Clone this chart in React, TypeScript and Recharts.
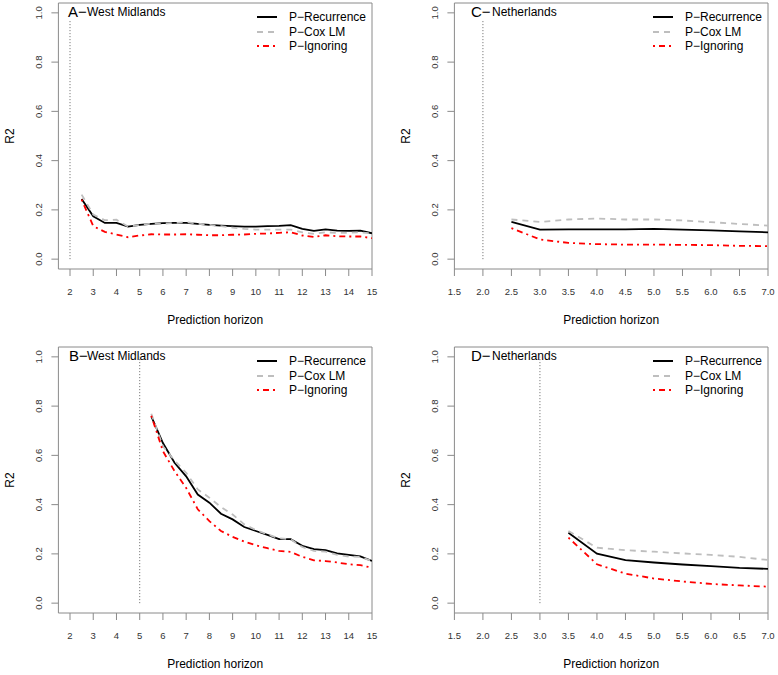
import React from 'react';
import {
  LineChart,
  Line,
  XAxis,
  YAxis,
  ReferenceLine,
  ReferenceArea,
  Legend,
} from 'recharts';

// West Midlands horizons / R2
const hA = [2.5, 3, 3.5, 4, 4.5, 5, 5.5, 6, 6.5, 7, 7.5, 8, 8.5, 9, 9.5, 10, 10.5, 11, 11.5, 12, 12.5, 13, 13.5, 14, 14.5, 15];
const recA = [0.244, 0.174, 0.147, 0.147, 0.132, 0.139, 0.143, 0.146, 0.147, 0.147, 0.143, 0.139, 0.136, 0.134, 0.132, 0.132, 0.134, 0.135, 0.138, 0.123, 0.115, 0.121, 0.116, 0.115, 0.116, 0.105];
const coxA = [0.262, 0.181, 0.158, 0.16, 0.132, 0.139, 0.144, 0.144, 0.147, 0.15, 0.144, 0.139, 0.134, 0.128, 0.123, 0.12, 0.12, 0.12, 0.12, 0.109, 0.103, 0.109, 0.107, 0.107, 0.109, 0.104];
const ignA = [0.242, 0.134, 0.111, 0.1, 0.089, 0.096, 0.101, 0.1, 0.1, 0.101, 0.099, 0.097, 0.097, 0.099, 0.1, 0.103, 0.104, 0.107, 0.109, 0.096, 0.09, 0.097, 0.093, 0.092, 0.092, 0.085];

const hB = [5.5, 6, 6.5, 7, 7.5, 8, 8.5, 9, 9.5, 10, 10.5, 11, 11.5, 12, 12.5, 13, 13.5, 14, 14.5, 15];
const recB = [0.758, 0.65, 0.57, 0.515, 0.441, 0.408, 0.363, 0.34, 0.309, 0.293, 0.277, 0.26, 0.26, 0.233, 0.219, 0.215, 0.202, 0.196, 0.19, 0.171];
const coxB = [0.769, 0.637, 0.579, 0.529, 0.462, 0.428, 0.39, 0.36, 0.32, 0.297, 0.279, 0.263, 0.259, 0.228, 0.212, 0.209, 0.196, 0.189, 0.188, 0.171];
const ignB = [0.761, 0.617, 0.536, 0.468, 0.381, 0.333, 0.293, 0.269, 0.25, 0.235, 0.223, 0.212, 0.208, 0.188, 0.174, 0.171, 0.165, 0.158, 0.154, 0.144];

// Netherlands
const hC = [2.5, 3, 3.5, 4, 4.5, 5, 5.5, 6, 6.5, 7];
const recC = [0.151, 0.12, 0.121, 0.121, 0.121, 0.123, 0.12, 0.117, 0.113, 0.109];
const coxC = [0.161, 0.151, 0.161, 0.165, 0.161, 0.161, 0.157, 0.15, 0.143, 0.136];
const ignC = [0.126, 0.08, 0.066, 0.061, 0.059, 0.059, 0.058, 0.057, 0.054, 0.053];

const hD = [3.5, 4, 4.5, 5, 5.5, 6, 6.5, 7];
const recD = [0.286, 0.201, 0.175, 0.165, 0.157, 0.15, 0.143, 0.139];
const coxD = [0.293, 0.225, 0.215, 0.209, 0.202, 0.196, 0.188, 0.175];
const ignD = [0.266, 0.158, 0.12, 0.1, 0.088, 0.078, 0.072, 0.067];

const wmTicks = [2, 3, 4, 5, 6, 7, 8, 9, 10, 11, 12, 13, 14, 15];
const nlTicks = [1.5, 2, 2.5, 3, 3.5, 4, 4.5, 5, 5.5, 6, 6.5, 7];
const yTicks = [0, 0.2, 0.4, 0.6, 0.8, 1.0];

const seriesNames = ['P\u2212Recurrence', 'P\u2212Cox LM', 'P\u2212Ignoring'];

const FONT = '"Liberation Sans", Arial, Helvetica, sans-serif';
const FRAME = '#8a8a8a';

const rows = (h: number[], rec: number[], cox: number[], ign: number[]) =>
  h.map((x, i) => ({ h: x, rec: rec[i], cox: cox[i], ign: ign[i] }));

const XTick = ({ x, y, payload, fmt }: any) => (
  <text x={x} y={y + 17} textAnchor="middle" fontSize={9.5} fill="#333" fontFamily={FONT}>
    {fmt(payload.value)}
  </text>
);

const YTick = ({ x, y, payload }: any) => (
  <text
    x={x - 7}
    y={y}
    textAnchor="middle"
    fontSize={9.5}
    fill="#333"
    fontFamily={FONT}
    transform={`rotate(-90, ${x - 7}, ${y})`}
  >
    {payload.value.toFixed(1)}
  </text>
);

const LegendBox = () => {
  const styles = [
    { stroke: '#000', dash: undefined },
    { stroke: '#bebebe', dash: '6 5' },
    { stroke: '#ff0000', dash: '2 4 6 4' },
  ];
  return (
    <div style={{ fontFamily: FONT, fontSize: 12, color: '#000' }}>
      {seriesNames.map((n, i) => (
        <div key={n} style={{ display: 'flex', alignItems: 'center', height: 14.5 }}>
          <svg width={22} height={6} style={{ marginRight: 11 }}>
            <line x1={1} y1={3} x2={21} y2={3} stroke={styles[i].stroke} strokeWidth={2} strokeDasharray={styles[i].dash} />
          </svg>
          <span>{n}</span>
        </div>
      ))}
    </div>
  );
};

interface PanelProps {
  left: number;
  top: number;
  data: any[];
  domain: [number, number];
  ticks: number[];
  fmt: (v: number) => string;
  cut: number;
  letter: string;
  place: string;
  letterX: number;
  placeX: number;
}

const Panel: React.FC<PanelProps> = ({ left, top, data, domain, ticks, fmt, cut, letter, place, letterX, placeX }) => (
  <div style={{ position: 'absolute', left, top, width: 390, height: 331 }}>
    <LineChart width={390} height={331} data={data} margin={{ top: 3, right: 18, bottom: 0, left: 0 }}>
      <ReferenceArea x1={domain[0]} x2={domain[1]} y1={-0.04} y2={1.04} fill="none" stroke={FRAME} strokeWidth={1} />
      <XAxis
        dataKey="h"
        type="number"
        domain={domain}
        ticks={ticks}
        allowDataOverflow
        axisLine={false}
        tickLine={{ stroke: FRAME }}
        tickSize={7}
        height={62}
        tick={<XTick fmt={fmt} />}
        label={{
          content: ({ viewBox }: any) => (
            <text x={viewBox.x + viewBox.width / 2} y={viewBox.y + 55} textAnchor="middle" fontSize={12} fontFamily={FONT} fill="#000">
              Prediction horizon
            </text>
          ),
        }}
      />
      <YAxis
        type="number"
        domain={[-0.04, 1.04]}
        ticks={yTicks}
        allowDataOverflow
        axisLine={false}
        tickLine={{ stroke: FRAME }}
        tickSize={7}
        width={58.4}
        tick={<YTick />}
        label={{
          content: ({ viewBox }: any) => {
            const cy = viewBox.y + viewBox.height / 2;
            return (
              <text x={14} y={cy} textAnchor="middle" fontSize={12} fontFamily={FONT} fill="#000" transform={`rotate(-90, 14, ${cy})`}>
                R2
              </text>
            );
          },
        }}
      />
      <ReferenceLine segment={[{ x: cut, y: 0 }, { x: cut, y: 1 }]} stroke="#666" strokeDasharray="1 2" strokeWidth={1} />
      <Line type="linear" dataKey="rec" stroke="#000" strokeWidth={1.8} dot={false} isAnimationActive={false} />
      <Line type="linear" dataKey="cox" stroke="#bebebe" strokeWidth={1.8} strokeDasharray="6 5" dot={false} isAnimationActive={false} />
      <Line type="linear" dataKey="ign" stroke="#ff0000" strokeWidth={1.8} strokeDasharray="2 4 6 4" dot={false} isAnimationActive={false} />
      <Legend
        layout="vertical"
        align="center"
        verticalAlign="middle"
        content={<LegendBox />}
        wrapperStyle={{ position: 'absolute', left: 256, top: 10, width: 'auto' }}
      />
    </LineChart>
    <div
      style={{
        position: 'absolute',
        left: letterX,
        top: 4,
        fontFamily: FONT,
        color: '#000',
        background: '#fff',
        whiteSpace: 'nowrap',
        lineHeight: '16px',
      }}
    >
      <span style={{ fontSize: 15 }}>{letter}</span>
      <span style={{ fontSize: 12, position: 'absolute', left: placeX - letterX }}>{place}</span>
    </div>
  </div>
);

const wmFmt = (v: number) => String(v);
const nlFmt = (v: number) => v.toFixed(1);

export default function App() {
  return (
    <div style={{ position: 'absolute', left: 0, top: 0, width: 778, height: 675, background: '#fff' }}>
      <Panel left={0} top={0} data={rows(hA, recA, coxA, ignA)} domain={[1.5, 15]} ticks={wmTicks} fmt={wmFmt} cut={2}
        letter={'A\u2212'} place="West Midlands" letterX={68} placeX={87} />
      <Panel left={0} top={344} data={rows(hB, recB, coxB, ignB)} domain={[1.5, 15]} ticks={wmTicks} fmt={wmFmt} cut={5}
        letter={'B\u2212'} place="West Midlands" letterX={69} placeX={87} />
      <Panel left={396} top={0} data={rows(hC, recC, coxC, ignC)} domain={[1.5, 7]} ticks={nlTicks} fmt={nlFmt} cut={2}
        letter={'C\u2212'} place="Netherlands" letterX={75} placeX={96} />
      <Panel left={396} top={344} data={rows(hD, recD, coxD, ignD)} domain={[1.5, 7]} ticks={nlTicks} fmt={nlFmt} cut={3}
        letter={'D\u2212'} place="Netherlands" letterX={75} placeX={96} />
    </div>
  );
}
